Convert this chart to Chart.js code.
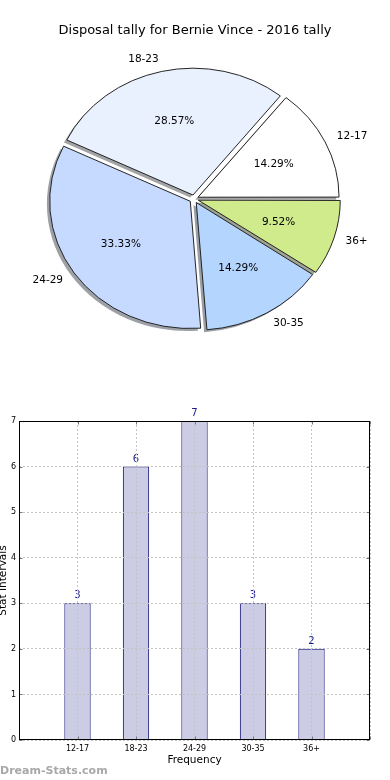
<!DOCTYPE html>
<html>
<head>
<meta charset="utf-8">
<title>Disposal tally for Bernie Vince - 2016 tally</title>
<script src="https://cdn.jsdelivr.net/npm/chart.js@4.4.1/dist/chart.umd.min.js"></script>
<style>
    html, body { margin: 0; padding: 0; background: #fff; }
    body { width: 390px; height: 780px; position: relative; overflow: hidden; }
    #pieWrap { position: absolute; left: 0; top: 0; width: 390px; height: 396px; }
    #barWrap { position: absolute; left: 0; top: 390px; width: 390px; height: 390px; }
    .watermark {
        position: absolute; left: 0; top: 764px;
        font: bold 11px "DejaVu Sans", sans-serif; color: #a8a8a8;
    }
</style>
</head>
<body>
<div id="pieWrap"><canvas id="pieChart" width="390" height="396"></canvas></div>
<div id="barWrap"><canvas id="barChart" width="390" height="390"></canvas></div>
<div class="watermark">Dream-Stats.com</div>

<script>
// Data
const chartTitle = 'Disposal tally for Bernie Vince - 2016 tally';
const ageGroups = ['12-17', '18-23', '24-29', '30-35', '36+'];
const disposals = [3, 6, 7, 3, 2];
const sliceColors = ['#ffffff', '#eaf1fe', '#c6d9ff', '#b4d5fe', '#d0eb8c'];
const yAxisMax = 7;

const FONT = '"DejaVu Sans", sans-serif';
const SY = 0.905; // the pie is drawn a little squashed vertically (ellipse)

// matplotlib draws counter-clockwise from 3 o'clock, Chart.js clockwise -> reverse
const pieLabels = ageGroups.slice().reverse();
const pieValues = disposals.slice().reverse();
const pieColors = sliceColors.slice().reverse();

function shadowOf(hex) {
    const n = parseInt(hex.slice(1), 16);
    const r = Math.round(((n >> 16) & 255) * 0.3);
    const g = Math.round(((n >> 8) & 255) * 0.3);
    const b = Math.round((n & 255) * 0.3);
    return 'rgba(' + r + ',' + g + ',' + b + ',0.5)';
}

/**
 * Squash the pie, draw the drop shadows, then the labels and the title
 */
const pieExtras = {
    id: 'pieExtras',
    beforeDatasetsDraw(chart) {
        const ctx = chart.ctx;
        const arcs = chart.getDatasetMeta(0).data;
        const cx = arcs[0].x, cy = arcs[0].y;
        ctx.save();
        ctx.translate(cx, cy);
        ctx.scale(1, SY);
        ctx.translate(-cx, -cy);

        // shadows under every wedge
        ctx.save();
        ctx.translate(-2.8, 2.8);
        arcs.forEach((arc, i) => {
            const o = arc.options;
            arc.options = Object.assign({}, o, { backgroundColor: shadowOf(pieColors[i]), borderWidth: 0 });
            arc.draw(ctx);
            arc.options = o;
        });
        ctx.restore();
    },
    afterDatasetsDraw(chart) {
        const ctx = chart.ctx;
        ctx.restore();

        const total = pieValues.reduce((a, b) => a + b, 0);
        const arcs = chart.getDatasetMeta(0).data;
        ctx.save();
        ctx.fillStyle = '#000';
        ctx.textBaseline = 'middle';
        ctx.font = '10.5px ' + FONT;
        arcs.forEach((arc, i) => {
            const p = arc.getProps(['x', 'y', 'startAngle', 'endAngle', 'outerRadius'], true);
            const mid = (p.startAngle + p.endAngle) / 2;
            const shift = (arc.options.offset || 0) / 4;
            const at = r => [p.x + Math.cos(mid) * (shift + r), p.y + SY * Math.sin(mid) * (shift + r)];

            const [px, py] = at(p.outerRadius * 0.6);
            ctx.textAlign = 'center';
            ctx.fillText((pieValues[i] / total * 100).toFixed(2) + '%', px, py);

            const [lx, ly] = at(p.outerRadius * 1.1);
            ctx.textAlign = Math.cos(mid) > 0 ? 'left' : 'right';
            ctx.fillText(pieLabels[i], lx, ly);
        });

        ctx.font = '13px ' + FONT;
        ctx.textAlign = 'center';
        ctx.fillText(chartTitle, 195, 31);
        ctx.restore();
    }
};

/**
 * Axes frame with inward ticks, and the value above each bar
 */
const barExtras = {
    id: 'barExtras',
    afterDatasetsDraw(chart) {
        const ctx = chart.ctx;
        const meta = chart.getDatasetMeta(0);
        ctx.save();
        ctx.font = '10px ' + FONT;
        ctx.fillStyle = '#1a1a8c';
        ctx.textAlign = 'center';
        ctx.textBaseline = 'alphabetic';
        meta.data.forEach((bar, i) => {
            ctx.fillText(String(disposals[i]), bar.x, bar.y - 5);
        });
        ctx.restore();
    },
    afterDraw(chart) {
        const ctx = chart.ctx;
        const a = chart.chartArea;
        const l = Math.round(a.left) + 0.5, r = Math.round(a.right) - 0.5;
        const t = Math.round(a.top) + 0.5, b = Math.round(a.bottom) - 0.5;
        ctx.save();
        ctx.strokeStyle = '#777';
        ctx.lineWidth = 1;
        ctx.beginPath();
        chart.scales.x.ticks.forEach(tk => {
            const x = Math.round(chart.scales.x.getPixelForValue(tk.value)) + 0.5;
            ctx.moveTo(x, t); ctx.lineTo(x, t + 3);
            ctx.moveTo(x, b); ctx.lineTo(x, b - 3);
        });
        chart.scales.y.ticks.forEach(tk => {
            const y = Math.round(chart.scales.y.getPixelForValue(tk.value)) + 0.5;
            ctx.moveTo(l, y); ctx.lineTo(l + 3, y);
            ctx.moveTo(r, y); ctx.lineTo(r - 3, y);
        });
        ctx.stroke();
        ctx.strokeStyle = '#000';
        ctx.strokeRect(l, t, r - l, b - t);
        ctx.restore();
    }
};

document.addEventListener('DOMContentLoaded', function() {
    // Pie chart
    new Chart(document.getElementById('pieChart'), {
        type: 'pie',
        data: {
            labels: pieLabels,
            datasets: [{
                data: pieValues,
                backgroundColor: pieColors,
                borderColor: '#1a1a1a',
                borderWidth: 1,
                offset: 18,
                hoverOffset: 0,
                rotation: 90,
                radius: 140
            }]
        },
        options: {
            responsive: false,
            animation: false,
            events: [],
            layout: { padding: { right: 2, top: 2 } },
            plugins: {
                legend: { display: false },
                tooltip: { enabled: false }
            }
        },
        plugins: [pieExtras]
    });

    // Bar chart
    const gridStyle = { color: '#c4c4c4', lineWidth: 1, drawTicks: false, z: 1 };
    const dotted = { display: false, dash: [2, 2] };

    new Chart(document.getElementById('barChart'), {
        type: 'bar',
        data: {
            datasets: [{
                data: disposals.map((v, i) => ({ x: i, y: v })),
                backgroundColor: '#ccccE5',
                borderColor: '#000070',
                borderWidth: 1,
                categoryPercentage: 1,
                barPercentage: 0.45
            }]
        },
        options: {
            responsive: false,
            animation: false,
            events: [],
            layout: { padding: { top: 31, right: 20, left: 0, bottom: 0 } },
            scales: {
                x: {
                    type: 'linear',
                    min: -1,
                    max: ageGroups.length,
                    offset: false,
                    afterFit: s => { s.height = 40; },
                    grid: Object.assign({ offset: false }, gridStyle),
                    border: dotted,
                    ticks: {
                        stepSize: 1,
                        padding: 4,
                        autoSkip: false,
                        maxRotation: 0,
                        color: '#000',
                        font: { family: FONT, size: 8 },
                        callback: v => ageGroups[v] || ''
                    },
                    title: {
                        display: true,
                        text: 'Frequency',
                        color: '#000',
                        font: { family: FONT, size: 10.5 },
                        padding: { top: 0, bottom: 13 }
                    }
                },
                y: {
                    min: 0,
                    max: yAxisMax,
                    afterFit: s => { s.width = 19; },
                    grid: gridStyle,
                    border: dotted,
                    ticks: {
                        stepSize: 1,
                        padding: 3,
                        color: '#000',
                        font: { family: FONT, size: 8 }
                    },
                    title: {
                        display: true,
                        text: 'Stat Intervals',
                        color: '#000',
                        font: { family: FONT, size: 10.5 },
                        padding: { top: -3, bottom: 0 }
                    }
                }
            },
            plugins: {
                legend: { display: false },
                tooltip: { enabled: false }
            }
        },
        plugins: [barExtras]
    });
});
</script>
</body>
</html>
